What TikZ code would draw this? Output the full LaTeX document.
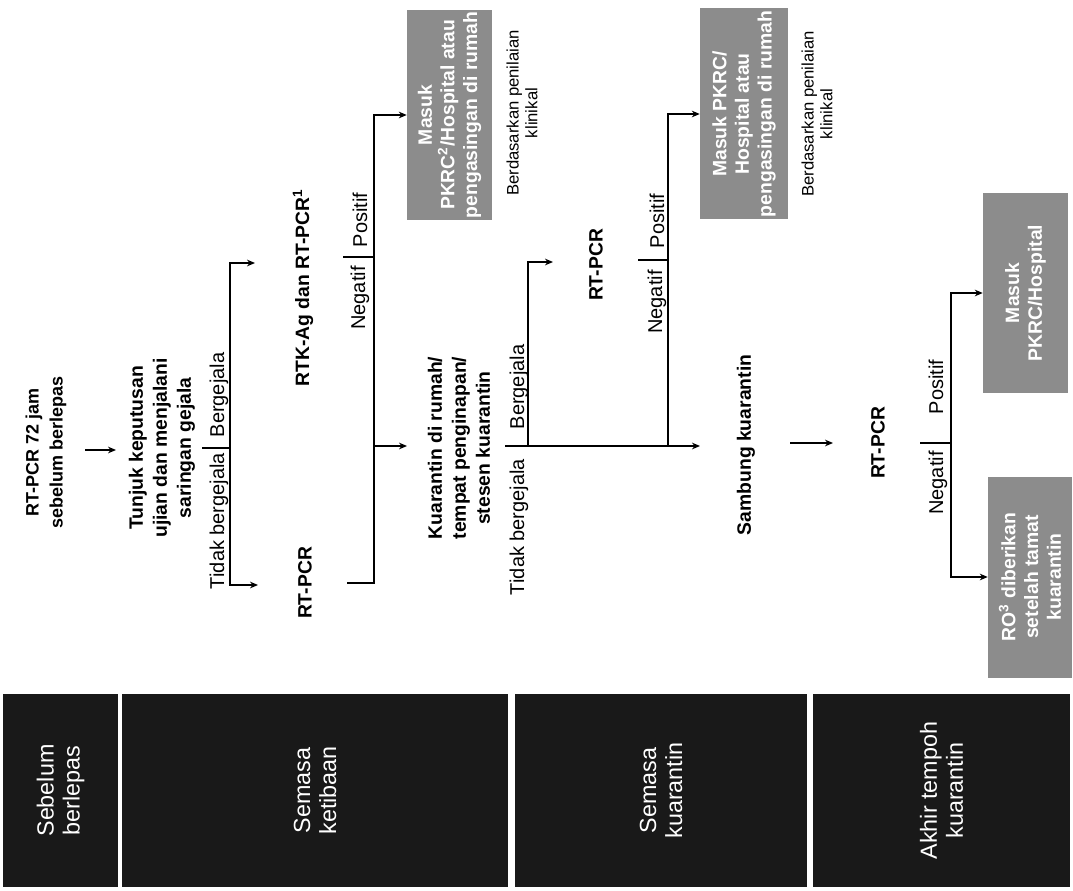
\documentclass[tikz,border=0pt]{standalone}
\usepackage{fontspec}
\setmainfont{Liberation Sans}
\usetikzlibrary{arrows.meta}
\begin{document}
\begin{tikzpicture}[x=0.75pt,y=-0.75pt,
  every node/.style={rotate=90, inner sep=0pt, align=center},
  phase/.style={fill=black!90, text=white, font=\fontsize{17.5}{19.5}\selectfont},
  bold/.style={font=\bfseries\fontsize{14.5}{18}\selectfont},
  lbl/.style={font=\fontsize{15}{17}\selectfont},
  note/.style={font=\fontsize{12.5}{14}\selectfont},
  gbox/.style={fill=black!45, text=white, font=\bfseries\fontsize{14.5}{17}\selectfont},
  ln/.style={line width=0.9pt},
  arr/.style={ln,-{Stealth[length=6pt,width=5pt]}}
]
\path[use as bounding box, fill=white] (0,0) rectangle (1073,891);

% phase boxes
\node[phase, minimum width=144.75pt, minimum height=86.25pt] (p1) at (60.5,790.5) {Sebelum\\berlepas};
\node[phase, minimum width=144.75pt, minimum height=289.5pt] (p2) at (315,790.5) {Semasa\\ketibaan};
\node[phase, minimum width=144.75pt, minimum height=219pt] (p3) at (661,790.5) {Semasa\\kuarantin};
\node[phase, minimum width=144.75pt, minimum height=192.75pt] (p4) at (941.5,790.5) {Akhir tempoh\\kuarantin};

% main text nodes
\node[bold, font=\bfseries\fontsize{13.5}{18}\selectfont] (n1) at (46,452) {RT-PCR 72 jam\\sebelum berlepas};
\node[bold] (n2) at (162,448) {Tunjuk keputusan\\ujian dan menjalani\\saringan gejala};
\node[bold] (n3) at (303,288) {RTK-Ag dan RT-PCR\textsuperscript{1}};
\node[bold] (n4) at (305,583) {RT-PCR};
\node[bold] (n5) at (459,448) {Kuarantin di rumah/\\tempat penginapan/\\stesen kuarantin};
\node[bold] (n6) at (596,265) {RT-PCR};
\node[bold] (n7) at (746,445) {Sambung kuarantin};
\node[bold] (n8) at (878,443) {RT-PCR};

% grey outcome boxes
\node[gbox, minimum width=157.5pt, minimum height=63.75pt] (g1) at (449.5,115) {Masuk\\PKRC\textsuperscript{2}/Hospital atau\\pengasingan di rumah};
\node[gbox, minimum width=158.25pt, minimum height=66pt] (g2) at (744,114) {Masuk PKRC/\\Hospital atau\\pengasingan di rumah};
\node[gbox, minimum width=150pt, minimum height=63.75pt] (g3) at (1025.5,293) {Masuk\\PKRC/Hospital};
\node[gbox, minimum width=150.75pt, minimum height=63pt] (g4) at (1030,577) {RO\textsuperscript{3} diberikan\\setelah tamat\\kuarantin};

% notes
\node[note] (b1) at (522,113) {Berdasarkan penilaian\\klinikal};
\node[note] (b2) at (817,114) {Berdasarkan penilaian\\klinikal};

% branch labels
\node[lbl] (l1) at (219,395) {Bergejala};
\node[lbl] (l2) at (219,521) {Tidak bergejala};
\node[lbl] (l3) at (360,220) {Positif};
\node[lbl] (l4) at (360,298) {Negatif};
\node[lbl] (l5) at (519,387) {Bergejala};
\node[lbl] (l6) at (519,527) {Tidak bergejala};
\node[lbl] (l7) at (657,221) {Positif};
\node[lbl] (l8) at (657,302) {Negatif};
\node[lbl] (l9) at (936,387) {Positif};
\node[lbl] (l10) at (938,483) {Negatif};

% coordinates
\coordinate (a1s) at (85,450);
\coordinate (a1e) at (116,450);
\coordinate (t1a) at (202,448);
\coordinate (t1b) at (230,448);
\coordinate (e1) at (255,263);
\coordinate (e2) at (258,585);
\coordinate (t2a) at (343,257);
\coordinate (t2b) at (374,257);
\coordinate (e4) at (407,446);
\coordinate (m4a) at (347,583);
\coordinate (t3a) at (505,446);
\coordinate (t3b) at (528,446);
\coordinate (e5) at (700,446);
\coordinate (e6) at (553,262);
\coordinate (t4a) at (638,260);
\coordinate (t4b) at (668,260);
\coordinate (j4) at (668,446);
\coordinate (a7s) at (790,443);
\coordinate (a7e) at (833,443);
\coordinate (t5a) at (920,443);
\coordinate (t5b) at (951,443);

% connectors
\draw[arr] (a1s) -- (a1e);
\draw[ln] (t1a) -- (t1b);
\draw[arr] (t1b) |- (e1);
\draw[arr] (t1b) |- (e2);
\draw[ln] (t2a) -- (t2b);
\draw[arr] (t2b) |- (g1.north);
\draw[arr] (t2b) |- (e4);
\draw[ln] (m4a) -| (t2b);
\draw[arr] (t3a) -- (e5);
\draw[arr] (t3b) |- (e6);
\draw[ln] (t4a) -- (t4b);
\draw[arr] (t4b) |- (g2.north);
\draw[ln] (t4b) -- (j4);
\draw[arr] (a7s) -- (a7e);
\draw[ln] (t5a) -- (t5b);
\draw[arr] (t5b) |- (g3.north);
\draw[arr] (t5b) |- (g4.north);
\end{tikzpicture}
\end{document}
